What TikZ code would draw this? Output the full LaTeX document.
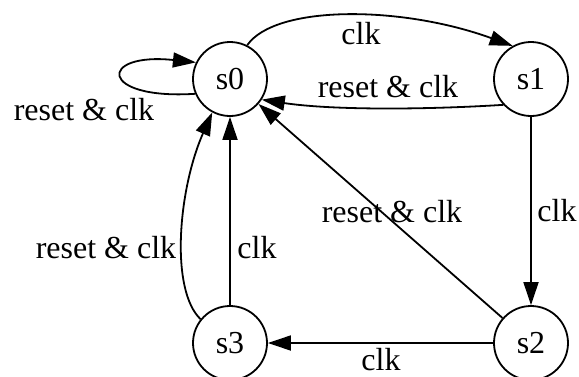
\documentclass[tikz,border=0pt]{standalone}
\usepackage{fontspec}
\setmainfont{Liberation Serif}
\usetikzlibrary{arrows.meta}
\tikzset{
  state/.style={draw, circle, line width=0.9pt, minimum size=37pt, inner sep=0pt},
  edge/.style={line width=0.9pt, -{Triangle[length=11.5pt, width=7.5pt]}},
  lbl/.style={inner sep=0pt}
}
\begin{document}
\begin{tikzpicture}[x=0.5pt, y=-0.5pt, font=\fontsize{16}{19}\selectfont]
  \useasboundingbox (0,0) rectangle (579,376);

  % states
  \node[state] (s0) at (230,79) {s0};
  \node[state] (s1) at (531,79) {s1};
  \node[state] (s2) at (531,343) {s2};
  \node[state] (s3) at (230,343) {s3};

  % transitions
  \draw[edge] (s0.203) .. controls (98,100) and (98,52) .. (s0.154);
  \draw[edge] (s0.63) .. controls (275,5) and (400,5) .. (s1.119);
  \draw[edge] (s1.223) .. controls (420,110) and (330,110) .. (s0.-33);
  \draw[edge] (s1) -- (s2);
  \draw[edge] (s2) -- (s0);
  \draw[edge] (s2) -- (s3);
  \draw[edge] (s3) -- (s0);
  \draw[edge] (s3.141) .. controls (170,290) and (178,190) .. (s0.242);

  % transition labels
  \node[lbl] (l00) at (84,110) {reset \& clk};
  \node[lbl] (l01) at (361,34) {clk};
  \node[lbl] (l10) at (388,87) {reset \& clk};
  \node[lbl] (l12) at (557,211) {clk};
  \node[lbl] (l20) at (392,212) {reset \& clk};
  \node[lbl] (l23) at (381,360) {clk};
  \node[lbl] (l30) at (257,248) {clk};
  \node[lbl] (l30r) at (106,248) {reset \& clk};
\end{tikzpicture}
\end{document}
